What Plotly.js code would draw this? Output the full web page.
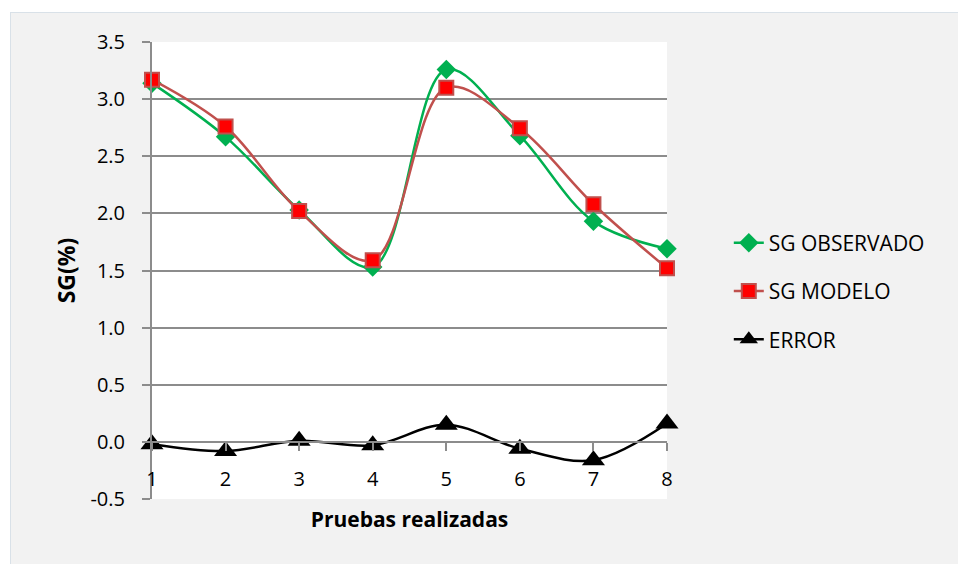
<!DOCTYPE html>
<html>
<head>
<meta charset="utf-8">
<script src="https://cdn.plot.ly/plotly-3.0.1.min.js"></script>
<style>
  html, body { margin: 0; padding: 0; background: #ffffff; }
  #frame { position: absolute; left: 10px; top: 12px; width: 960px; height: 570px;
           background: #f2f2f2; border: 1px solid #d9e1e8; }
  #chart { position: absolute; left: 0; top: 0; width: 958px; height: 564px; }
</style>
</head>
<body>
<div id="frame"></div>
<div id="chart"></div>
<script>
const pruebas = [1, 2, 3, 4, 5, 6, 7, 8];
const sgObservado = [3.14, 2.67, 2.03, 1.53, 3.26, 2.68, 1.93, 1.69];
const sgModelo = [3.17, 2.76, 2.02, 1.59, 3.10, 2.745, 2.08, 1.52];
const errorVals = [-0.02, -0.08, 0.01, -0.03, 0.15, -0.06, -0.16, 0.16];
const yTicks = [-0.5, 0, 0.5, 1, 1.5, 2, 2.5, 3, 3.5];
const yTickText = ['-0.5', '0.0', '0.5', '1.0', '1.5', '2.0', '2.5', '3.0', '3.5'];

const FONT = 'Open Sans, Noto Sans, sans-serif';

const traces = [
  {
    x: pruebas, y: sgObservado, name: 'SG OBSERVADO', type: 'scatter', mode: 'lines+markers',
    line: { color: '#00b050', width: 2.5, shape: 'spline', smoothing: 1 },
    marker: { symbol: 'diamond', size: 15, color: '#00b050' },
    cliponaxis: false, legendgroup: 'a'
  },
  {
    x: pruebas, y: sgModelo, name: 'SG MODELO', type: 'scatter', mode: 'lines+markers',
    line: { color: '#c0504d', width: 2.5, shape: 'spline', smoothing: 1 },
    marker: { symbol: 'square', size: 14, color: '#ff0000', line: { color: '#c0504d', width: 2 } },
    cliponaxis: false, legendgroup: 'b'
  },
  {
    x: pruebas, y: errorVals, name: 'ERROR', type: 'scatter', mode: 'lines+markers',
    line: { color: '#000000', width: 2.5, shape: 'spline', smoothing: 1 },
    marker: { symbol: 'triangle-up', size: 20, color: '#000000' },
    cliponaxis: false, legendgroup: 'c'
  }
];

const layout = {
  width: 958, height: 564,
  paper_bgcolor: 'rgba(0,0,0,0)',
  plot_bgcolor: '#ffffff',
  margin: { l: 152, r: 291, t: 42, b: 65, pad: 0 },
  font: { family: FONT, size: 18, color: '#000000' },
  showlegend: true,
  legend: {
    x: 1.12, y: 0.455, xanchor: 'left', yanchor: 'middle',
    bgcolor: 'rgba(0,0,0,0)', traceorder: 'grouped', tracegroupgap: 18,
    font: { family: FONT, size: 21, color: '#000000' }
  },
  xaxis: {
    range: [1, 8], tickvals: pruebas, ticktext: pruebas.map(String),
    anchor: 'free', position: 0.125,
    showline: true, linecolor: '#8c8c8c', linewidth: 2,
    ticks: 'outside', ticklen: 8, tickcolor: '#8c8c8c', tickwidth: 2,
    ticklabelstandoff: 11,
    showgrid: false, zeroline: false,
    tickfont: { family: FONT, size: 20, color: '#000000' },
    title: { text: '<b>Pruebas realizadas</b>', font: { family: FONT, size: 21, color: '#000000' }, standoff: 20 }
  },
  yaxis: {
    range: [-0.5, 3.5], tickvals: yTicks, ticktext: yTickText,
    showline: true, linecolor: '#8c8c8c', linewidth: 2,
    ticks: 'outside', ticklen: 8, tickcolor: '#8c8c8c', tickwidth: 2,
    ticklabelstandoff: 13,
    showgrid: true, gridcolor: '#8c8c8c', gridwidth: 2,
    zeroline: false,
    tickfont: { family: FONT, size: 20, color: '#000000' },
    title: { text: '<b>SG(%)</b>', font: { family: FONT, size: 23, color: '#000000' }, standoff: 8 }
  }
};

Plotly.newPlot('chart', traces, layout, { displayModeBar: false, staticPlot: true });
</script>
</body>
</html>
